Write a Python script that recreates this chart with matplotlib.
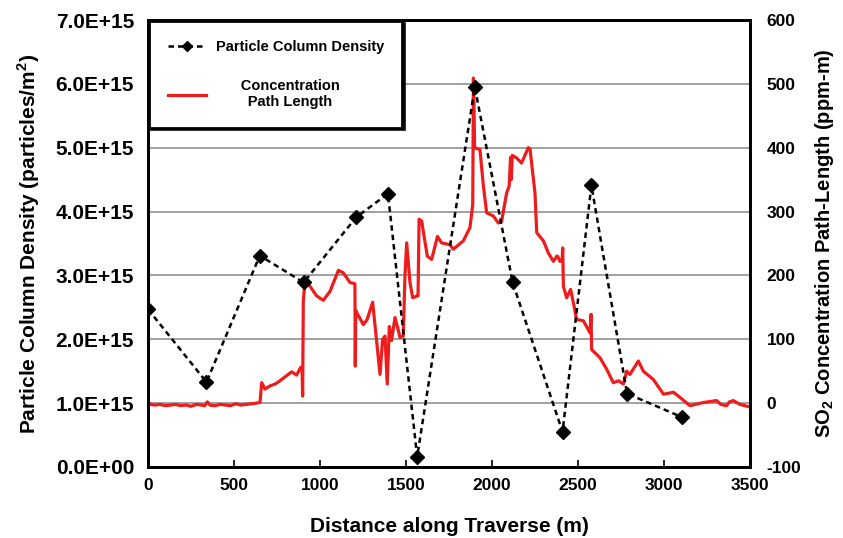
import matplotlib
matplotlib.use("Agg")
import matplotlib.pyplot as plt
from matplotlib.ticker import FuncFormatter, MultipleLocator

plt.rcParams['font.family'] = ['Liberation Sans', 'DejaVu Sans']
plt.rcParams['mathtext.fontset'] = 'custom'
plt.rcParams['mathtext.bf'] = 'Liberation Sans:bold'
plt.rcParams['mathtext.rm'] = 'Liberation Sans'
plt.rcParams['axes.unicode_minus'] = False

# Particle column density (left axis), particles/m^2
pcd_x = [0, 340, 650, 905, 1210, 1395, 1565, 1900, 2120, 2410, 2578, 2785, 3105]
pcd_y = [2.47e15, 1.33e15, 3.31e15, 2.89e15, 3.91e15, 4.28e15, 0.16e15,
         5.95e15, 2.89e15, 0.55e15, 4.41e15, 1.15e15, 0.78e15]

# SO2 concentration path-length (right axis), ppm-m
so2_x = [0, 15, 40, 70, 100, 130, 160, 190, 220, 250, 280, 310, 330, 345, 360, 390,
         420, 450, 480, 510, 540, 570, 600, 630, 648,
         651, 661, 680, 709, 740, 767, 806, 835, 864, 888, 896, 899, 903, 913, 942,
         980, 1019, 1058, 1107, 1136, 1174, 1203, 1205, 1208, 1213, 1252, 1274, 1306,
         1320, 1349, 1364, 1378, 1391, 1403, 1416, 1436, 1449, 1465, 1484, 1494, 1504,
         1523, 1539, 1566, 1570, 1576, 1591, 1624, 1649, 1683, 1707, 1756, 1775, 1833,
         1872, 1888, 1892, 1895, 1899, 1930, 1950, 1969, 2008, 2037, 2056, 2085, 2100,
         2108, 2112, 2118, 2143, 2172, 2211, 2221, 2250, 2260, 2299, 2328, 2357, 2376,
         2382, 2395, 2408, 2411, 2415, 2434, 2457, 2477, 2492, 2531, 2570, 2576, 2579,
         2628, 2667, 2705, 2735, 2764, 2783, 2802, 2851, 2880, 2938, 2997, 3055, 3093,
         3151, 3229, 3306, 3330, 3364, 3380, 3403, 3442, 3500]
so2_y = [2, -2, -3, -2, -4, -3, -2, -4, -3, -5, -2, -3, -4, 2, -3, -4,
         -2, -3, -4, -1, -3, -2, -1, 0, 1,
         1, 32, 22, 27, 30, 35, 43, 49, 44, 56, 52, 11, 160, 191, 183,
         168, 161, 175, 208, 204, 189, 187, 58, 145, 142, 123, 131, 158,
         121, 45, 100, 105, 30, 120, 98, 134, 121, 103, 105, 200, 251,
         189, 165, 168, 168, 288, 285, 230, 225, 261, 251, 248, 241, 254,
         275, 311, 509, 470, 400, 397, 340, 298, 293, 282, 285, 329, 340,
         385, 350, 388, 384, 376, 400, 398, 329, 267, 254, 235, 222, 230,
         230, 222, 225, 243, 183, 165, 178, 152, 131, 129, 110, 139, 84,
         71, 53, 32, 35, 30, 50, 45, 66, 50, 37, 14, 17, 9,
         -4, 1, 4, -2, -4, 2, 4, -2, -6]

x_ticks = [0, 500, 1000, 1500, 2000, 2500, 3000, 3500]

fig = plt.figure(figsize=(8.43, 5.38), dpi=100)
ax2 = fig.add_axes([148/843, 1-467/538, (750-148)/843, (467-20)/538])
ax = ax2.twinx()
ax.yaxis.tick_left()
ax.yaxis.set_label_position('left')
ax2.yaxis.tick_right()
ax2.yaxis.set_label_position('right')

# grid on the SO2 axis (aligned with left ticks)
ax2.set_ylim(-100, 600)
ax2.yaxis.set_major_locator(MultipleLocator(100))
ax2.grid(axis='y', color='#a0a0a0', linewidth=1.4, zorder=0)
ax2.set_axisbelow(True)
red, = ax2.plot(so2_x, so2_y, color='#ee1c1c', linewidth=2.3, zorder=2,
                label='      Concentration\n      Path Length')

blk, = ax.plot(pcd_x, pcd_y, color='black', linestyle=(0, (2.2, 1.6)), linewidth=1.8,
               marker='D', markersize=7, markerfacecolor='black',
               markeredgecolor='black', label='Particle Column Density', zorder=3)
ax.set_ylim(0, 7e15)
ax.yaxis.set_major_locator(MultipleLocator(1e15))
ax.yaxis.set_major_formatter(FuncFormatter(
    lambda v, p: '0.0E+00' if abs(v) < 1 else f'{v/1e15:.1f}E+15'))

ax2.set_xlim(0, 3500)
ax2.set_xticks(x_ticks)

for a in (ax, ax2):
    for s in a.spines.values():
        s.set_linewidth(2)
        s.set_color('black')

ax.tick_params(axis='y', length=0, labelsize=15, pad=10)
ax2.tick_params(axis='y', length=0, labelsize=12.5, pad=12)
ax2.tick_params(axis='x', direction='in', length=5, width=1.2, labelsize=12.5, pad=8)
for lab in ax.get_yticklabels() + ax2.get_yticklabels() + ax2.get_xticklabels():
    lab.set_fontweight('bold')

ax.set_ylabel(r'Particle Column Density (particles/m$^\mathbf{2}$)',
              fontsize=15, fontweight='bold', labelpad=10)
ax2.set_ylabel(r'SO$_\mathbf{2}$ Concentration Path-Length (ppm-m)',
               fontsize=14.5, fontweight='bold', labelpad=8)
ax2.set_xlabel('Distance along Traverse (m)', fontsize=15, fontweight='bold',
               labelpad=17)

leg = ax.legend(handles=[blk, red], loc='upper left', bbox_to_anchor=(0, 1),
                borderaxespad=0.1, frameon=True, fancybox=False,
                shadow={'color': 'black', 'alpha': 0.9, 'ox': 1.2, 'oy': -1.2},
                fontsize=10.5, labelspacing=1.75, handlelength=2.6, handletextpad=0.7,
                borderpad=1.25, markerscale=0.8)
leg.get_frame().set_edgecolor('black')
leg.get_frame().set_linewidth(2)
for t in leg.get_texts():
    t.set_fontweight('bold')
    t.set_multialignment('center')

fig.savefig('out.png', dpi=100)
